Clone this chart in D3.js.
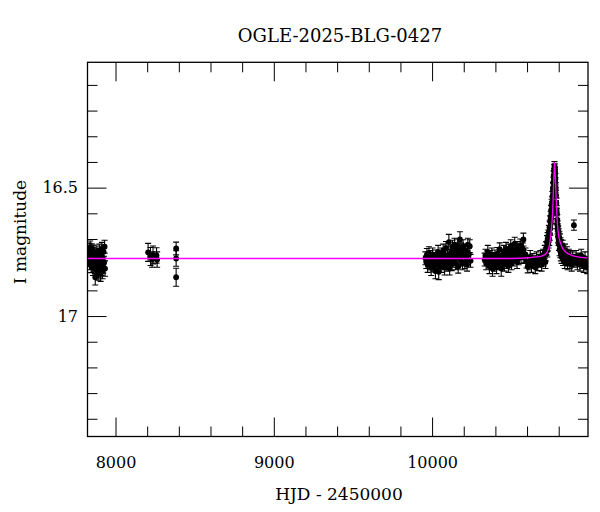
<!DOCTYPE html>
<html lang="en">
<head>
<meta charset="UTF-8">
<title>OGLE-2025-BLG-0427</title>
<script src="https://d3js.org/d3.v7.min.js"></script>
<style>
  body { margin: 0; background: #fff; }
  svg { display: block; font-family: "DejaVu Serif", serif; }
  .tick line { stroke: #000; stroke-width: 1; }
</style>
</head>
<body>
<svg id="chart" width="600" height="512"></svg>
<script>
// photometry: [HJD - 2450000, I mag, error]
const season2017 = [
  [7830,16.752,0.025],[7832,16.778,0.030],[7834,16.741,0.025],[7836,16.790,0.030],[7838,16.765,0.025],
  [7840,16.733,0.025],[7842,16.770,0.030],[7844,16.755,0.025],[7846,16.801,0.030],[7848,16.762,0.025],
  [7850,16.744,0.025],[7852,16.785,0.030],[7854,16.772,0.025],[7856,16.758,0.025],[7858,16.812,0.030],
  [7860,16.768,0.025],[7862,16.749,0.025],[7864,16.795,0.030],[7866,16.778,0.025],[7868,16.760,0.025],
  [7870,16.805,0.030],[7872,16.849,0.030],[7874,16.783,0.025],[7876,16.769,0.025],[7878,16.820,0.030],
  [7880,16.790,0.025],[7882,16.752,0.025],[7884,16.807,0.030],[7886,16.775,0.025],[7888,16.798,0.025],
  [7890,16.830,0.030],[7892,16.762,0.025],[7894,16.815,0.030],[7896,16.786,0.025],[7898,16.745,0.025],
  [7900,16.800,0.025],[7902,16.822,0.030],[7904,16.770,0.025],[7906,16.835,0.030],[7908,16.790,0.025],
  [7910,16.760,0.025],[7912,16.812,0.030],[7914,16.738,0.025],[7916,16.795,0.025],[7918,16.825,0.030],
  [7920,16.776,0.025],[7922,16.808,0.025],[7925,16.750,0.025],[7928,16.792,0.025],[7931,16.730,0.025],
  [7934,16.815,0.030]
];
const season2018 = [
  [8206,16.752,0.035],[8221,16.768,0.035],[8231,16.780,0.030],[8237,16.762,0.035],[8259,16.764,0.030],
  [8263,16.780,0.030]
];
const season2019 = [
  [8383,16.737,0.025],[8383,16.776,0.030],[8383,16.849,0.035]
];
const season2023 = [
  [9958,16.775,0.025],[9963,16.790,0.025],[9967,16.762,0.025],[9972,16.800,0.030],[9976,16.781,0.025],
  [9980,16.755,0.025],[9985,16.795,0.025],[9989,16.770,0.025],[9994,16.812,0.030],[9998,16.785,0.025],
  [10003,16.760,0.025],[10007,16.803,0.025],[10012,16.778,0.025],[10016,16.792,0.025],[10021,16.825,0.030],
  [10025,16.768,0.025],[10030,16.800,0.025],[10034,16.785,0.025],[10038,16.750,0.025],[10042,16.828,0.030],
  [10048,16.790,0.025],[10052,16.772,0.025],[10057,16.805,0.025],[10061,16.760,0.025],[10066,16.795,0.025],
  [10070,16.745,0.025],[10075,16.782,0.025],[10079,16.810,0.030],[10084,16.770,0.025],[10088,16.735,0.025],
  [10093,16.800,0.025],[10097,16.765,0.025],[10102,16.790,0.025],[10106,16.712,0.030],[10111,16.815,0.025],
  [10115,16.775,0.025],[10120,16.752,0.025],[10124,16.798,0.025],[10129,16.730,0.025],[10133,16.785,0.025],
  [10138,16.760,0.025],[10142,16.722,0.025],[10147,16.795,0.025],[10151,16.745,0.025],[10156,16.770,0.025],
  [10160,16.725,0.025],[10165,16.808,0.025],[10169,16.755,0.025],[10176,16.702,0.030],[10180,16.780,0.025],
  [10183,16.740,0.025],[10187,16.765,0.025],[10192,16.795,0.025],[10196,16.728,0.025],[10201,16.752,0.025],
  [10206,16.790,0.025],[10211,16.745,0.025],[10216,16.772,0.025],[10221,16.800,0.025],[10226,16.722,0.025],
  [10232,16.760,0.025],[10238,16.728,0.025],[10243,16.785,0.025]
];
const season2024 = [
  [10332,16.780,0.025],[10337,16.765,0.025],[10342,16.795,0.025],[10347,16.772,0.025],[10352,16.750,0.025],
  [10357,16.788,0.025],[10362,16.805,0.030],[10367,16.770,0.025],[10372,16.792,0.025],[10377,16.760,0.025],
  [10382,16.815,0.030],[10387,16.778,0.025],[10392,16.800,0.025],[10397,16.768,0.025],[10402,16.785,0.025],
  [10407,16.810,0.025],[10412,16.758,0.025],[10417,16.795,0.025],[10422,16.775,0.025],[10427,16.740,0.025],
  [10432,16.790,0.025],[10437,16.815,0.030],[10442,16.765,0.025],[10447,16.782,0.025],[10452,16.750,0.025],
  [10457,16.800,0.025],[10462,16.770,0.025],[10467,16.738,0.025],[10472,16.790,0.025],[10477,16.760,0.025],
  [10482,16.805,0.025],[10487,16.745,0.025],[10492,16.775,0.025],[10497,16.728,0.025],[10502,16.795,0.025],
  [10507,16.760,0.025],[10512,16.742,0.025],[10517,16.780,0.025],[10522,16.718,0.025],[10527,16.765,0.025],
  [10532,16.752,0.025],[10537,16.790,0.025],[10542,16.735,0.025],[10547,16.775,0.025],[10552,16.748,0.025],
  [10557,16.725,0.025],[10562,16.770,0.025],[10567,16.755,0.025],[10572,16.740,0.025],[10577,16.702,0.025],
  [10582,16.768,0.025],[10590,16.760,0.025],[10596,16.788,0.025],[10604,16.807,0.025]
];
const season2025 = [
  [10612,16.795,0.025],[10620,16.770,0.025],[10628,16.805,0.025],[10636,16.782,0.025],[10644,16.790,0.025],
  [10652,16.810,0.025],[10660,16.775,0.025],[10668,16.798,0.025],[10676,16.785,0.025],[10684,16.770,0.025],
  [10692,16.800,0.025],[10700,16.765,0.025],[10706,16.780,0.025],[10712,16.750,0.025],[10716,16.790,0.025],
  [10718,16.760,0.025],[10721,16.735,0.025],[10723,16.738,0.025],[10726,16.712,0.025],[10728,16.745,0.025],
  [10730,16.700,0.025],[10732,16.722,0.025],[10734,16.690,0.025],[10736,16.710,0.025],[10738,16.672,0.025],
  [10740,16.700,0.025],[10742,16.655,0.025],[10744,16.680,0.025],[10746,16.630,0.020],[10747,16.660,0.025],
  [10749,16.612,0.020],[10750,16.640,0.020],[10752,16.590,0.020],[10753,16.620,0.020],[10755,16.565,0.020],
  [10756,16.600,0.020],[10758,16.575,0.020],[10760,16.535,0.020],[10761,16.555,0.020],[10763,16.530,0.020],
  [10764,16.500,0.020],[10765,16.505,0.020],[10767,16.480,0.020],[10768,16.455,0.020],[10769,16.455,0.020],
  [10770,16.470,0.020],[10771,16.430,0.020],[10772,16.445,0.020],[10773,16.418,0.020],[10774,16.432,0.020],
  [10775,16.425,0.020],[10776,16.450,0.020],[10777,16.440,0.020],[10778,16.480,0.020],[10779,16.465,0.020],
  [10780,16.510,0.020],[10781,16.500,0.020],[10783,16.530,0.020],[10784,16.560,0.020],[10785,16.560,0.020],
  [10787,16.590,0.020],[10788,16.600,0.020],[10790,16.640,0.020],[10791,16.625,0.020],[10793,16.660,0.020],
  [10794,16.650,0.020],[10796,16.690,0.025],[10797,16.670,0.020],[10799,16.700,0.025],[10800,16.685,0.025],
  [10802,16.720,0.025],[10804,16.695,0.025],[10806,16.740,0.025],[10808,16.705,0.025],[10810,16.748,0.025],
  [10812,16.720,0.025],[10814,16.760,0.025],[10816,16.728,0.025],[10818,16.770,0.025],[10820,16.742,0.025],
  [10825,16.730,0.025],[10828,16.778,0.025],[10830,16.752,0.025],[10835,16.762,0.025],[10838,16.790,0.025],
  [10840,16.745,0.025],[10846,16.770,0.025],[10852,16.755,0.025],[10856,16.795,0.025],[10858,16.780,0.025],
  [10864,16.765,0.025],[10870,16.790,0.025],[10876,16.770,0.025],[10882,16.800,0.025],[10888,16.775,0.025],
  [10896,16.646,0.020],[10902,16.785,0.025],[10910,16.770,0.025],[10918,16.795,0.025],[10926,16.780,0.025],
  [10934,16.800,0.025],[10942,16.765,0.025],[10950,16.790,0.025],[10958,16.805,0.025],[10966,16.775,0.025],
  [10974,16.795,0.025],[10980,16.810,0.025]
];

// microlensing model curve
const modelTime = [7823, 10500, 10612, 10660, 10696, 10727, 10743, 10753, 10762, 10768, 10771,
                   10774, 10777, 10780, 10787, 10795, 10812, 10844, 10907, 10985];
const modelMag  = [16.776, 16.776, 16.773, 16.770, 16.766, 16.751, 16.718, 16.665, 16.587, 16.481, 16.435,
                   16.403, 16.435, 16.481, 16.587, 16.665, 16.718, 16.751, 16.768, 16.774];

const xMajorTicks = [8000, 9000, 10000];
const xMinorTicks = [8200, 8400, 8600, 8800, 9200, 9400, 9600, 9800, 10200, 10400, 10600, 10800];
const yMajorTicks = [16.5, 17];
const yMinorTicks = [16.1, 16.2, 16.3, 16.4, 16.6, 16.7, 16.8, 16.9, 17.1, 17.2, 17.3, 17.4];

const svg = d3.select("#chart");
const frameLeft = 87.5, frameTop = 62.3, frameRight = 588, frameBottom = 436.5;

const x = d3.scaleLinear().domain([7823, 10985]).range([frameLeft, frameRight]);
const y = d3.scaleLinear().domain([16.012, 17.469]).range([frameTop, frameBottom]);

const points = season2017.concat(season2018, season2019, season2023, season2024, season2025);

svg.append("clipPath").attr("id", "frame")
  .append("rect")
  .attr("x", frameLeft).attr("y", frameTop)
  .attr("width", frameRight - frameLeft).attr("height", frameBottom - frameTop);

const plot = svg.append("g").attr("clip-path", "url(#frame)");

// error bars
const bars = plot.append("g").attr("stroke", "#000").attr("stroke-width", 1.1);
bars.selectAll("line.err")
  .data(points).enter().append("line")
  .attr("class", "err")
  .attr("x1", d => x(d[0])).attr("x2", d => x(d[0]))
  .attr("y1", d => y(d[1] - d[2])).attr("y2", d => y(d[1] + d[2]));
bars.selectAll("line.capTop")
  .data(points).enter().append("line")
  .attr("class", "capTop")
  .attr("x1", d => x(d[0]) - 3).attr("x2", d => x(d[0]) + 3)
  .attr("y1", d => y(d[1] - d[2])).attr("y2", d => y(d[1] - d[2]));
bars.selectAll("line.capBot")
  .data(points).enter().append("line")
  .attr("class", "capBot")
  .attr("x1", d => x(d[0]) - 3).attr("x2", d => x(d[0]) + 3)
  .attr("y1", d => y(d[1] + d[2])).attr("y2", d => y(d[1] + d[2]));

// data points
plot.append("g").selectAll("circle")
  .data(points).enter().append("circle")
  .attr("cx", d => x(d[0]))
  .attr("cy", d => y(d[1]))
  .attr("r", 2.9)
  .attr("fill", "#000");

// model on top
const line = d3.line()
  .x((d, i) => x(modelTime[i]))
  .y(d => y(d))
  .curve(d3.curveMonotoneX);
plot.append("path")
  .attr("d", line(modelMag))
  .attr("fill", "none")
  .attr("stroke", "#ff00ff")
  .attr("stroke-width", 1.3);

// ticks on all four sides, pointing inwards
function ticks(axisFn, pos, vals, size, fmt, pad) {
  const a = axisFn.tickValues(vals).tickSizeInner(-size).tickSizeOuter(0).tickPadding(pad).tickFormat(fmt);
  const g = svg.append("g").attr("transform", pos).call(a);
  g.select(".domain").remove();
  g.selectAll("text").attr("fill", "#000").attr("font-family", "DejaVu Serif").attr("font-size", 16);
  return g;
}
const none = () => "";
ticks(d3.axisBottom(x), `translate(0,${frameBottom})`, xMinorTicks, 10, none, 0);
ticks(d3.axisBottom(x), `translate(0,${frameBottom})`, xMajorTicks, 19, d3.format("d"), 20);
ticks(d3.axisTop(x), `translate(0,${frameTop})`, xMinorTicks, 10, none, 0);
ticks(d3.axisTop(x), `translate(0,${frameTop})`, xMajorTicks, 19, none, 0);
ticks(d3.axisLeft(y), `translate(${frameLeft},0)`, yMinorTicks, 10, none, 0);
ticks(d3.axisLeft(y), `translate(${frameLeft},0)`, yMajorTicks, 19, d3.format("~g"), 9.5);
ticks(d3.axisRight(y), `translate(${frameRight},0)`, yMinorTicks, 10, none, 0);
ticks(d3.axisRight(y), `translate(${frameRight},0)`, yMajorTicks, 19, none, 0);

// frame
svg.append("rect")
  .attr("x", frameLeft).attr("y", frameTop)
  .attr("width", frameRight - frameLeft).attr("height", frameBottom - frameTop)
  .attr("fill", "none").attr("stroke", "#000").attr("stroke-width", 1.3);

// titles
svg.append("text")
  .attr("x", 340).attr("y", 41.5)
  .attr("text-anchor", "middle")
  .attr("font-size", 18)
  .text("OGLE-2025-BLG-0427");

svg.append("text")
  .attr("x", 339).attr("y", 500)
  .attr("text-anchor", "middle")
  .attr("font-size", 17)
  .text("HJD - 2450000");

svg.append("text")
  .attr("transform", "translate(26,232) rotate(-90)")
  .attr("text-anchor", "middle")
  .attr("font-size", 17)
  .text("I magnitude");
</script>
</body>
</html>
